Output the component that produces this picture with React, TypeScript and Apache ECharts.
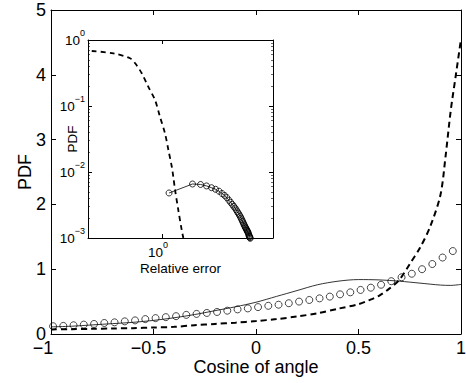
import React, { useEffect, useRef } from 'react';
import * as echarts from 'echarts';

const FONT = '"Liberation Sans", Arial, Helvetica, sans-serif';

// ---- main plot data ----
const mainXTicks = [-1, -0.5, 0, 0.5, 1];
const mainXTickLabels = ['\u22121', '\u22120.5', '0', '0.5', '1'];
const mainYTickLabels = ['0', '1', '2', '3', '4', '5'];

const solidX = [-1, -0.9, -0.8, -0.7, -0.6, -0.5, -0.4, -0.3, -0.2, -0.1, 0, 0.1, 0.2, 0.3, 0.4, 0.5, 0.6, 0.7, 0.8, 0.9, 0.95, 1];
const solidY = [0.11, 0.12, 0.14, 0.16, 0.18, 0.21, 0.25, 0.3, 0.36, 0.42, 0.49, 0.58, 0.67, 0.76, 0.815, 0.84, 0.835, 0.815, 0.785, 0.755, 0.75, 0.765];

const dashX = [-1, -0.9, -0.8, -0.7, -0.6, -0.5, -0.4, -0.3, -0.2, -0.1, 0, 0.1, 0.2, 0.3, 0.4, 0.5, 0.55, 0.6, 0.65, 0.7, 0.75, 0.8, 0.85, 0.9, 0.925, 0.95, 0.975, 1];
const dashY = [0.07, 0.075, 0.08, 0.085, 0.09, 0.1, 0.11, 0.135, 0.155, 0.175, 0.2, 0.23, 0.27, 0.32, 0.39, 0.46, 0.52, 0.59, 0.7, 0.84, 1.08, 1.33, 1.66, 2.15, 2.75, 3.45, 4.0, 4.55];

const circX = [-0.99, -0.94, -0.89, -0.84, -0.79, -0.74, -0.69, -0.64, -0.59, -0.54, -0.49, -0.44, -0.39, -0.34, -0.29, -0.24, -0.19, -0.14, -0.09, -0.04, 0.01, 0.06, 0.11, 0.16, 0.21, 0.26, 0.31, 0.36, 0.41, 0.46, 0.51, 0.56, 0.61, 0.66, 0.71, 0.76, 0.81, 0.86, 0.91, 0.96];
const circY = [0.12, 0.125, 0.135, 0.145, 0.155, 0.17, 0.18, 0.195, 0.21, 0.23, 0.245, 0.26, 0.275, 0.295, 0.31, 0.325, 0.34, 0.36, 0.38, 0.395, 0.415, 0.435, 0.452, 0.475, 0.5, 0.525, 0.55, 0.577, 0.612, 0.643, 0.68, 0.715, 0.76, 0.815, 0.875, 0.93, 1.0, 1.08, 1.18, 1.28];

// ---- inset data (log-log) ----
const insetXMin = 0.316;
const insetXMax = 5.62;
const insetXTicks = [1];
const insetXTickExp = ['0'];
const insetYTicks = [0.001, 0.01, 0.1, 1];
const insetYTickExp = ['\u22123', '\u22122', '\u22121', '0'];
const insetYMinor = [0.002, 0.003, 0.004, 0.005, 0.006, 0.007, 0.008, 0.009, 0.02, 0.03, 0.04, 0.05, 0.06, 0.07, 0.08, 0.09, 0.2, 0.3, 0.4, 0.5, 0.6, 0.7, 0.8, 0.9];

const insetDashX = [0.335, 0.469, 0.608, 0.658, 0.729, 0.807, 0.897, 0.968, 1.047, 1.104, 1.164, 1.191, 1.225, 1.288, 1.358, 1.393];
const insetDashY = [0.681, 0.628, 0.528, 0.444, 0.313, 0.196, 0.123, 0.0689, 0.0385, 0.0215, 0.012, 0.00849, 0.00533, 0.00265, 0.00132, 0.001];

const insetCircX = [1.115, 1.607, 1.82, 1.999, 2.16, 2.299, 2.427, 2.543, 2.644, 2.74, 2.828, 2.908, 2.981, 3.051, 3.113, 3.172, 3.227, 3.277, 3.329, 3.376, 3.418, 3.461, 3.499, 3.537, 3.571, 3.604, 3.638, 3.667, 3.695, 3.724, 3.753, 3.776, 3.8, 3.823, 3.847, 3.871, 3.89, 3.908, 3.926, 3.944];
const insetCircY = [0.00481, 0.00658, 0.00647, 0.00615, 0.00578, 0.00547, 0.00512, 0.00472, 0.00442, 0.00409, 0.00374, 0.00347, 0.00323, 0.00302, 0.00285, 0.00267, 0.0025, 0.00237, 0.00224, 0.00212, 0.002, 0.00189, 0.00179, 0.0017, 0.00162, 0.00155, 0.00148, 0.00143, 0.00139, 0.00134, 0.0013, 0.00126, 0.00123, 0.00119, 0.00114, 0.00109, 0.00106, 0.00104, 0.00101, 0.00099];

const zip = (xs: number[], ys: number[]) => xs.map((x, i) => [x, ys[i]]);

const nearestIdx = (arr: number[], v: number, log = false) => {
  let best = 0;
  let bd = Infinity;
  arr.forEach((a, i) => {
    const d = log ? Math.abs(Math.log10(a) - Math.log10(v)) : Math.abs(a - v);
    if (d < bd) { bd = d; best = i; }
  });
  return best;
};

const axisLine = { show: true, onZero: false, lineStyle: { color: '#000', width: 1 } };
const richSup = {
  b: { fontSize: 13.5, lineHeight: 24, fontFamily: FONT, color: '#000' },
  s: { fontSize: 9, lineHeight: 8, verticalAlign: 'top', fontFamily: FONT, color: '#000' },
};
const tickFont = { fontSize: 18, fontFamily: FONT, color: '#000', lineHeight: 14 };
const richMainX = {
  n1: { ...tickFont, padding: [0, 16, 0, 0] },
  n2: { ...tickFont, padding: [0, 10, 0, 0] },
  p: { ...tickFont },
};

export default function App() {
  const ref = useRef<HTMLDivElement>(null);
  useEffect(() => {
    document.body.style.margin = '0';
    const chart = echarts.init(ref.current!, null, { renderer: 'svg' });
    const option: any = {
      animation: false,
      backgroundColor: '#fff',
      grid: [
        { left: 51, top: 10, width: 410, height: 324, containLabel: false, outerBoundsMode: 'none' },
        { left: 88, top: 40, width: 185, height: 198, containLabel: false, outerBoundsMode: 'none', show: true, backgroundColor: '#fff', borderWidth: 0, z: 10 },
      ],
      xAxis: [
        {
          gridIndex: 0, type: 'value', min: -1, max: 1, interval: 0.5, position: 'bottom',
          axisLine, axisTick: { show: true, inside: true, length: 5, lineStyle: { color: '#000' } },
          axisLabel: {
            margin: 7, ...tickFont,
            formatter: (v: number) => {
              const i = nearestIdx(mainXTicks, v);
              const key = i === 0 ? 'n1' : i === 1 ? 'n2' : 'p';
              return `{${key}|${mainXTickLabels[i]}}`;
            },
            rich: richMainX,
          },
          splitLine: { show: false },
          name: 'Cosine of angle', nameLocation: 'middle', nameGap: 24, nameMoveOverlap: false,
          nameTextStyle: { fontSize: 18, lineHeight: 18, color: '#000', fontFamily: FONT },
        },
        {
          gridIndex: 0, type: 'value', min: -1, max: 1, interval: 0.5, position: 'top',
          axisLine, axisTick: { show: true, inside: true, length: 5, lineStyle: { color: '#000' } },
          axisLabel: { show: false }, splitLine: { show: false },
        },
        {
          gridIndex: 1, type: 'log', logBase: 10, min: insetXMin, max: insetXMax, position: 'bottom', z: 11,
          axisLine, axisTick: { show: true, inside: true, length: 4, customValues: insetXTicks, lineStyle: { color: '#000' } },
          axisLabel: {
            customValues: insetXTicks, margin: 2, padding: [0, 8, 0, 0],
            formatter: (v: number) => `{b|10}{s|${insetXTickExp[nearestIdx(insetXTicks, v, true)]}}`,
            rich: richSup,
          },
          splitLine: { show: false }, minorTick: { show: false },
          name: 'Relative error', nameLocation: 'middle', nameGap: 23, nameMoveOverlap: false,
          nameTextStyle: { fontSize: 13.5, color: '#000', fontFamily: FONT },
        },
        {
          gridIndex: 1, type: 'log', logBase: 10, min: insetXMin, max: insetXMax, position: 'top', z: 11,
          axisLine, axisTick: { show: true, inside: true, length: 4, customValues: insetXTicks, lineStyle: { color: '#000' } },
          axisLabel: { show: false }, splitLine: { show: false },
        },
      ],
      yAxis: [
        {
          gridIndex: 0, type: 'value', min: 0, max: 5, interval: 1, position: 'left',
          axisLine, axisTick: { show: true, inside: true, length: 5, lineStyle: { color: '#000' } },
          axisLabel: {
            margin: 5, fontSize: 18, lineHeight: 13, color: '#000', fontFamily: FONT,
            formatter: (v: number) => mainYTickLabels[Math.round(v)],
          },
          splitLine: { show: false },
          name: 'PDF', nameLocation: 'middle', nameGap: 17, nameMoveOverlap: false,
          nameTextStyle: { fontSize: 18, color: '#000', fontFamily: FONT },
        },
        {
          gridIndex: 0, type: 'value', min: 0, max: 5, interval: 1, position: 'right',
          axisLine, axisTick: { show: true, inside: true, length: 5, lineStyle: { color: '#000' } },
          axisLabel: { show: false }, splitLine: { show: false },
        },
        {
          gridIndex: 1, type: 'log', logBase: 10, min: 0.001, max: 1, position: 'left', z: 11,
          axisLine, axisTick: { show: true, inside: true, length: 4, customValues: insetYTicks, lineStyle: { color: '#000' } },
          axisLabel: {
            customValues: insetYTicks, margin: 3,
            formatter: (v: number) => `{b|10}{s|${insetYTickExp[nearestIdx(insetYTicks, v, true)]}}`,
            rich: richSup,
          },
          splitLine: { show: false }, minorTick: { show: false },
          name: 'PDF', nameLocation: 'middle', nameGap: 9, nameMoveOverlap: false,
          nameTextStyle: { fontSize: 13.5, color: '#000', fontFamily: FONT },
        },
        {
          gridIndex: 1, type: 'log', logBase: 10, min: 0.001, max: 1, position: 'right', z: 11,
          axisLine, axisTick: { show: true, inside: true, length: 4, customValues: insetYTicks, lineStyle: { color: '#000' } },
          axisLabel: { show: false }, splitLine: { show: false },
        },
        {
          gridIndex: 1, type: 'log', logBase: 10, min: 0.001, max: 1, position: 'left', z: 11,
          axisLine: { show: false }, axisTick: { show: true, inside: true, length: 2, customValues: insetYMinor, lineStyle: { color: '#000', width: 0.6 } },
          axisLabel: { show: false }, splitLine: { show: false },
        },
        {
          gridIndex: 1, type: 'log', logBase: 10, min: 0.001, max: 1, position: 'right', z: 11,
          axisLine: { show: false }, axisTick: { show: true, inside: true, length: 2, customValues: insetYMinor, lineStyle: { color: '#000', width: 0.6 } },
          axisLabel: { show: false }, splitLine: { show: false },
        },
      ],
      series: [
        {
          type: 'line', xAxisIndex: 0, yAxisIndex: 0, data: zip(dashX, dashY), showSymbol: false, smooth: 0.3,
          lineStyle: { color: '#000', width: 2, type: [6, 4] },
        },
        {
          type: 'line', xAxisIndex: 0, yAxisIndex: 0, data: zip(solidX, solidY), showSymbol: false, smooth: 0.3,
          lineStyle: { color: '#000', width: 0.8 },
        },
        {
          type: 'scatter', xAxisIndex: 0, yAxisIndex: 0, data: zip(circX, circY), symbol: 'circle', symbolSize: 7,
          itemStyle: { color: 'rgba(0,0,0,0)', borderColor: '#000', borderWidth: 0.9 },
        },
        {
          type: 'line', xAxisIndex: 2, yAxisIndex: 2, z: 12, data: zip(insetDashX, insetDashY), showSymbol: false, smooth: 0.3,
          lineStyle: { color: '#000', width: 1.8, type: [5, 4] },
        },
        {
          type: 'line', xAxisIndex: 2, yAxisIndex: 2, z: 12, data: zip(insetCircX, insetCircY), clip: false,
          symbol: 'circle', symbolSize: 6, showSymbol: true, showAllSymbol: true,
          lineStyle: { color: '#000', width: 0.8 },
          itemStyle: { color: 'rgba(0,0,0,0)', borderColor: '#000', borderWidth: 0.8 },
        },
      ],
    };
    chart.setOption(option);
    return () => chart.dispose();
  }, []);
  return <div ref={ref} style={{ width: 466, height: 383 }} />;
}
